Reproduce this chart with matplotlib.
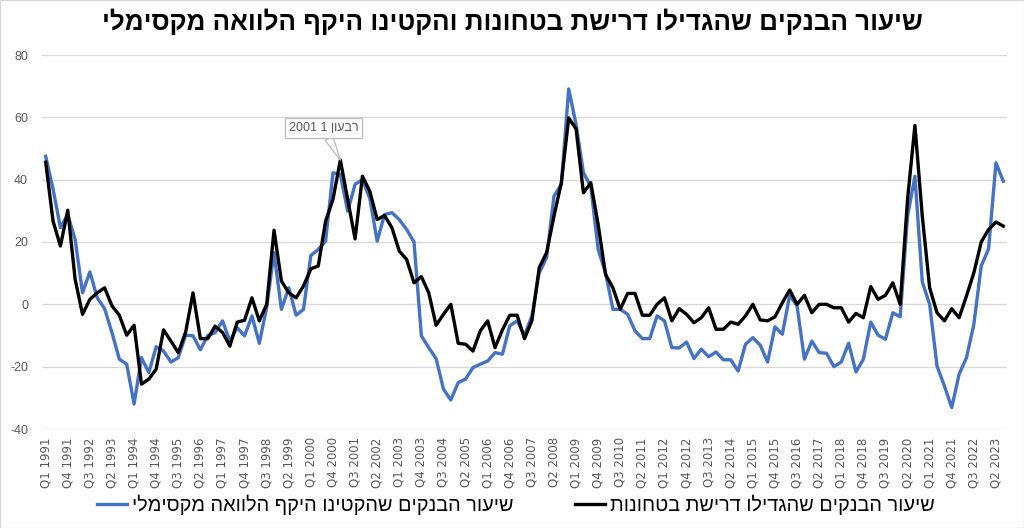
import numpy as np
import matplotlib
matplotlib.use("Agg")
import matplotlib.pyplot as plt
from matplotlib.patches import Rectangle
import re

plt.rcParams["font.family"] = ["Liberation Sans", "DejaVu Sans"]
plt.rcParams["axes.unicode_minus"] = False

# ─── Data (Q1 1991 .. Q3 2023) ───────────────────────────────────────────────
first_year = 1991
n_quarters = 131

collateral_up = [  # black: share of banks that raised collateral requirements
    45.6, 26.7, 18.7, 30.2, 8.0, -3.2, 1.6, 3.7, 5.3, -0.5,
    -3.5, -9.9, -6.7, -25.6, -24.0, -20.8, -8.2, -11.8, -15.5, -8.9,
    3.7, -11.0, -11.0, -7.0, -9.0, -13.4, -5.7, -5.1, 2.1, -5.3,
    0.0, 23.8, 7.5, 3.7, 2.1, 5.9, 11.4, 12.3, 26.7, 33.7,
    46.3, 33.7, 21.0, 41.1, 36.3, 27.2, 28.5, 24.6, 17.1, 14.4,
    6.9, 8.9, 3.7, -6.7, -3.2, 0.0, -12.5, -12.8, -15.0, -8.5,
    -5.3, -13.9, -8.2, -3.5, -3.5, -11.0, -5.3, 11.8, 16.6, 28.3,
    39.0, 59.8, 56.3, 35.8, 39.0, 25.6, 9.6, 5.3, -1.6, 3.5,
    3.5, -3.5, -3.5, 0.0, 2.1, -5.3, -1.4, -3.2, -5.9, -4.3,
    -1.1, -8.0, -8.0, -5.7, -6.4, -3.7, 0.0, -5.0, -5.3, -4.0,
    0.5, 4.6, 0.0, 2.9, -2.7, 0.0, 0.0, -1.1, -1.1, -5.7,
    -2.9, -4.3, 5.7, 1.6, 2.9, 6.9, 0.0, 33.7, 57.4, 28.3,
    5.3, -2.7, -5.3, -1.4, -4.3, 2.7, 10.1, 20.0, 24.0, 26.4,
    25.1,
]

max_loan_down = [  # blue: share of banks that cut the maximum loan size
    47.5, 37.0, 24.6, 28.8, 20.8, 3.7, 10.4, 2.1, -1.4, -9.1,
    -17.6, -19.2, -32.0, -17.1, -21.9, -13.6, -15.0, -18.5, -17.1, -9.9,
    -10.1, -14.6, -10.0, -9.1, -5.3, -11.8, -7.5, -10.1, -3.7, -12.5,
    -1.0, 16.6, -1.6, 5.3, -3.5, -1.6, 15.7, 17.6, 20.3, 42.2,
    41.7, 29.9, 38.5, 40.0, 34.0, 20.3, 28.8, 29.4, 27.2, 24.0,
    20.0, -10.1, -13.9, -17.4, -27.2, -30.7, -25.1, -24.0, -20.3, -19.2,
    -18.2, -15.5, -16.0, -6.9, -5.3, -10.0, -3.7, 10.1, 15.0, 34.7,
    38.5, 69.1, 57.7, 42.2, 37.9, 17.6, 10.1, -1.6, -1.6, -3.2,
    -8.5, -11.0, -11.0, -3.7, -5.3, -13.9, -14.0, -12.1, -17.4, -14.4,
    -16.8, -15.3, -17.8, -17.8, -21.4, -12.8, -10.7, -13.1, -18.5, -7.2,
    -9.6, 2.9, -0.5, -17.6, -11.8, -15.5, -15.7, -20.0, -18.5, -12.5,
    -21.7, -17.6, -5.7, -9.9, -11.2, -2.7, -4.0, 28.3, 41.1, 7.2,
    0.0, -19.8, -26.2, -33.1, -22.4, -17.1, -6.4, 12.3, 17.8, 45.4,
    39.5,
]

quarter_labels = [f"Q{i % 4 + 1} {first_year + i // 4}" for i in range(n_quarters)]

title_he = "שיעור הבנקים שהגדילו דרישת בטחונות והקטינו היקף הלוואה מקסימלי"
label_blue_he = "שיעור הבנקים שהקטינו היקף הלוואה מקסימלי"
label_black_he = "שיעור הבנקים שהגדילו דרישת בטחונות"
callout_he = "רבעון 1 2001"
callout_idx = 40  # Q1 2001


def rtl(s):
    """Visual order for Hebrew (no bidi lib): reverse, keep digit runs."""
    r = s[::-1]
    return re.sub(r"\d+", lambda m: m.group(0)[::-1], r)


# ─── Figure ──────────────────────────────────────────────────────────────────
W, H = 1024, 528
fig = plt.figure(figsize=(W / 100, H / 100), dpi=100)
ax = fig.add_axes([42 / W, 1 - 429 / H, (1007 - 42) / W, (429 - 55) / H])

blue = "#4472C4"
grey_txt = "#595959"
x = np.arange(n_quarters)

ax.plot(x, max_loan_down, color=blue, linewidth=2.4, zorder=3,
        solid_joinstyle="round", label=rtl(label_blue_he))
ax.plot(x, collateral_up, color="black", linewidth=2.4, zorder=4,
        solid_joinstyle="round", label=rtl(label_black_he))

ax.set_xlim(-0.5, n_quarters - 0.5)
ax.set_ylim(-40, 80)
ax.set_yticks(range(-40, 81, 20))
ax.grid(axis="y", color="#d9d9d9", linewidth=1.0, zorder=0)
ax.set_axisbelow(True)
for s in ax.spines.values():
    s.set_visible(False)

ax.set_xticks(x[::3])
ax.set_xticklabels(quarter_labels[::3], rotation=90, fontsize=8.5,
                   color=grey_txt, family=["DejaVu Sans"])
ax.tick_params(axis="x", length=0, pad=6)
ax.tick_params(axis="y", length=0, pad=10, labelsize=9, labelcolor=grey_txt)

# ── Callout on the Q1 2001 peak ───────────────────────────────────────────────
ax.annotate(
    rtl(callout_he),
    xy=(callout_idx, collateral_up[callout_idx]),
    xytext=(-12, 23), textcoords="offset points",
    ha="center", va="center", fontsize=9, color=grey_txt,
    bbox=dict(boxstyle="square,pad=0.3", facecolor="white",
              edgecolor="#bfbfbf", linewidth=1.0),
    arrowprops=dict(arrowstyle="wedge,tail_width=0.7,shrink_factor=0.5",
                    facecolor="white", edgecolor="#bfbfbf", linewidth=1.0,
                    shrinkA=0, shrinkB=0),
    zorder=6,
)

# ── Title and legend ──────────────────────────────────────────────────────────
fig.text(0.5, 1 - 22 / H, rtl(title_he), ha="center", va="center",
         fontsize=18.7, fontweight="bold", color="black")

fig.legend(loc="center", bbox_to_anchor=(516 / W, 1 - 505 / H), ncol=2,
           frameon=False, fontsize=14.3, handlelength=1.5,
           handletextpad=0.25, columnspacing=3.1)

fig.add_artist(Rectangle((0, 0), 1, 1, transform=fig.transFigure,
                         fill=False, edgecolor="#d9d9d9", linewidth=1.0))

fig.savefig("out.png", dpi=100, facecolor="white")
